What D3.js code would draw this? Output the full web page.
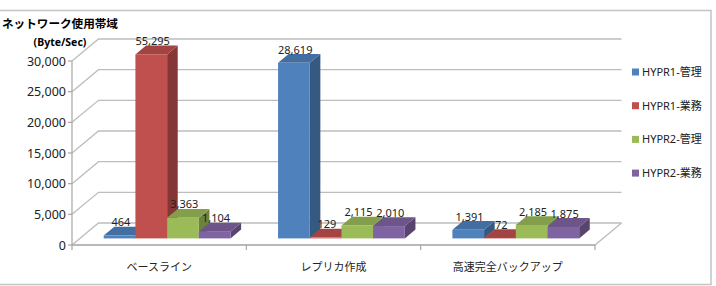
<!DOCTYPE html>
<html>
<head>
<meta charset="utf-8">
<script src="https://cdn.jsdelivr.net/npm/d3@7"></script>
<style>
  body { margin: 0; background: #fff; }
  svg { display: block; font-family: "Noto Sans", "Noto Sans CJK JP", sans-serif; }
</style>
</head>
<body>
<svg id="chart" width="716" height="286"></svg>
<script>
// data
const categories = ["ベースライン", "レプリカ作成", "高速完全バックアップ"];
const seriesNames = ["HYPR1-管理", "HYPR1-業務", "HYPR2-管理", "HYPR2-業務"];
const hypr1Kanri = [464, 28619, 1391];
const hypr1Gyomu = [55295, 129, 72];
const hypr2Kanri = [3363, 2115, 2185];
const hypr2Gyomu = [1104, 2010, 1875];
const yTicks = [0, 5000, 10000, 15000, 20000, 25000, 30000];
const colors = ["#4F81BD", "#C0504D", "#9BBB59", "#8064A2"];

const seriesValues = [hypr1Kanri, hypr1Gyomu, hypr2Kanri, hypr2Gyomu];
const yMax = 30000;

const svg = d3.select("#chart");

// 3d oblique offset for full floor depth
const DX = 26.5, DY = -22;
const D0 = 0.3, D1 = 0.7; // bar depth range

const x = d3.scaleBand().domain(categories).range([72, 595]);
const inner = d3.scaleBand().domain(seriesNames).range([0, x.bandwidth()]).paddingOuter(0.75);
const y = d3.scaleLinear().domain([0, yMax]).range([245, 61]);

const pt = (px, v, d) => [px + d * DX, y(v) + d * DY];

const gridColor = "#bdbdbd";

// chart border
svg.append("rect")
    .attr("x", -1).attr("y", 10.5)
    .attr("width", 712).attr("height", 274)
    .attr("fill", "none")
    .attr("stroke", "#c4c4c4")
    .attr("stroke-width", 1.5);

// title
svg.append("text")
    .attr("x", 2).attr("y", 28)
    .attr("font-size", 11.6)
    .attr("font-weight", "bold")
    .text("ネットワーク使用帯域");
svg.append("text")
    .attr("x", 60).attr("y", 46)
    .attr("text-anchor", "middle")
    .attr("font-size", 10.5)
    .attr("font-weight", "bold")
    .text("(Byte/Sec)");

const x0 = x.range()[0], x1 = x.range()[1];

// back wall gridlines + left wall diagonals
const grid = svg.append("g").attr("stroke", gridColor).attr("stroke-width", 1.3).attr("fill", "none");
yTicks.forEach(t => {
    const a = pt(x0, t, 0), b = pt(x0, t, 1), c = pt(x1, t, 1);
    grid.append("path").attr("d", d3.line()([a, b, c]));
});
// floor right edge and front edge
grid.append("path").attr("d", d3.line()([pt(x0, 0, 0), pt(x1, 0, 0), pt(x1, 0, 1)]));

// value axis
const axisColor = "#a6a6a6";
svg.append("line")
    .attr("x1", x0).attr("x2", x0)
    .attr("y1", y(0)).attr("y2", y(yMax))
    .attr("stroke", axisColor).attr("stroke-width", 1.2);
yTicks.forEach(t => {
    svg.append("line")
        .attr("x1", x0 - 4).attr("x2", x0)
        .attr("y1", y(t)).attr("y2", y(t))
        .attr("stroke", axisColor).attr("stroke-width", 1.2);
    svg.append("text")
        .attr("x", x0 - 6).attr("y", y(t) + 4.5)
        .attr("text-anchor", "end")
        .attr("font-size", 12.5)
        .attr("fill", "#222")
        .text(d3.format(",")(t));
});

// category axis
svg.append("line")
    .attr("x1", x0).attr("x2", x1)
    .attr("y1", y(0)).attr("y2", y(0))
    .attr("stroke", axisColor).attr("stroke-width", 1.2);
categories.concat([null]).forEach((c, i) => {
    const tx = c === null ? x1 : x(c);
    svg.append("line")
        .attr("x1", tx).attr("x2", tx)
        .attr("y1", y(0)).attr("y2", y(0) + 5)
        .attr("stroke", axisColor).attr("stroke-width", 1.2);
});
categories.forEach(c => {
    svg.append("text")
        .attr("x", x(c) + x.bandwidth() / 2)
        .attr("y", 271)
        .attr("text-anchor", "middle")
        .attr("font-size", 11)
        .attr("fill", "#222")
        .text(c);
});

// bars, drawn left to right so later bars cover earlier side faces
const bars = svg.append("g");
const labels = [];
categories.forEach((c, ci) => {
    seriesNames.forEach((s, si) => {
        const v = Math.min(seriesValues[si][ci], yMax);
        const left = x(c) + inner(s);
        const right = left + inner.bandwidth();
        const base = colors[si];
        const top = d3.rgb(base).darker(0.45);
        const side = d3.rgb(base).darker(1.05);
        const g = bars.append("g");
        // side
        g.append("path")
            .attr("d", d3.line()([pt(right, 0, D0), pt(right, 0, D1), pt(right, v, D1), pt(right, v, D0)]) + "Z")
            .attr("fill", side);
        // top
        g.append("path")
            .attr("d", d3.line()([pt(left, v, D0), pt(right, v, D0), pt(right, v, D1), pt(left, v, D1)]) + "Z")
            .attr("fill", top);
        // front
        const f0 = pt(left, v, D0), f1 = pt(right, 0, D0);
        g.append("rect")
            .attr("x", f0[0]).attr("y", f0[1])
            .attr("width", f1[0] - f0[0]).attr("height", f1[1] - f0[1])
            .attr("fill", base);
        labels.push({
            x: (left + right) / 2 + DX * 0.35,
            y: y(v) + DY * D1 - 0.5,
            text: d3.format(",")(seriesValues[si][ci])
        });
    });
});

svg.append("g").selectAll("text").data(labels).join("text")
    .attr("x", d => d.x)
    .attr("y", d => d.y)
    .attr("text-anchor", "middle")
    .attr("font-size", 11)
    .attr("fill", "#222")
    .text(d => d.text);

// legend
const legend = svg.append("g");
seriesNames.forEach((s, i) => {
    const ly = 72 + i * 33.7;
    legend.append("rect")
        .attr("x", 632).attr("y", ly - 3.5)
        .attr("width", 7).attr("height", 7)
        .attr("fill", colors[i]);
    legend.append("text")
        .attr("x", 642).attr("y", ly + 4)
        .attr("font-size", 11)
        .attr("fill", "#222")
        .text(s);
});
</script>
</body>
</html>
